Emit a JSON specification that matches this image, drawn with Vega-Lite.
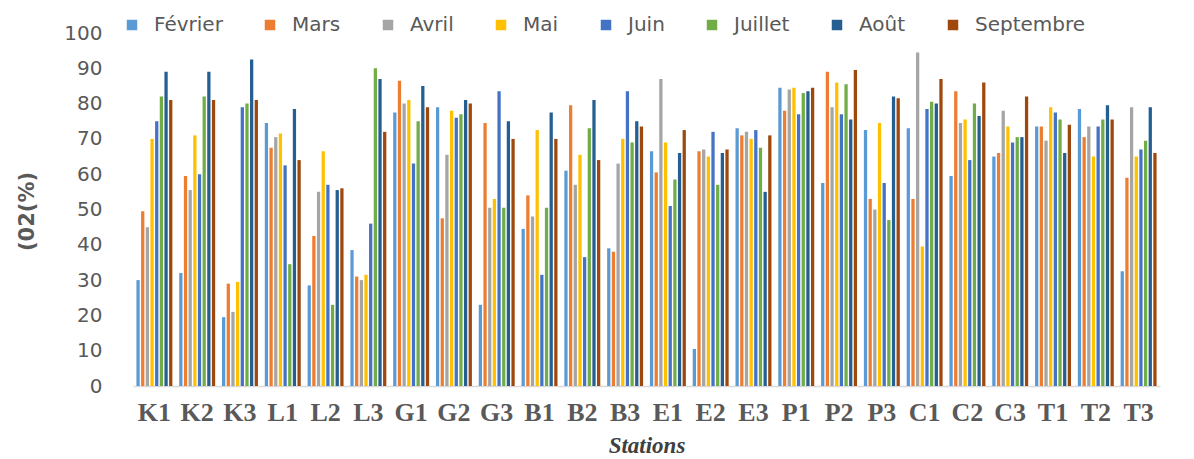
{
  "$schema": "https://vega.github.io/schema/vega-lite/v6.json",
  "autosize": {"type": "none"},
  "width": 1027,
  "height": 353,
  "padding": {"left": 133, "top": 33, "right": 34, "bottom": 73},
  "background": "white",
  "config": {"view": {"stroke": null}},
  "data": {
    "values": [
      {"station": "K1", "Février": 30, "Mars": 49.5, "Avril": 45, "Mai": 70, "Juin": 75, "Juillet": 82, "Août": 89, "Septembre": 81},
      {"station": "K2", "Février": 32, "Mars": 59.5, "Avril": 55.5, "Mai": 71, "Juin": 60, "Juillet": 82, "Août": 89, "Septembre": 81},
      {"station": "K3", "Février": 19.5, "Mars": 29, "Avril": 21, "Mai": 29.5, "Juin": 79, "Juillet": 80, "Août": 92.5, "Septembre": 81},
      {"station": "L1", "Février": 74.5, "Mars": 67.5, "Avril": 70.5, "Mai": 71.5, "Juin": 62.5, "Juillet": 34.5, "Août": 78.5, "Septembre": 64},
      {"station": "L2", "Février": 28.5, "Mars": 42.5, "Avril": 55, "Mai": 66.5, "Juin": 57, "Juillet": 23, "Août": 55.5, "Septembre": 56},
      {"station": "L3", "Février": 38.5, "Mars": 31, "Avril": 30, "Mai": 31.5, "Juin": 46, "Juillet": 90, "Août": 87, "Septembre": 72},
      {"station": "G1", "Février": 77.5, "Mars": 86.5, "Avril": 80, "Mai": 81, "Juin": 63, "Juillet": 75, "Août": 85, "Septembre": 79},
      {"station": "G2", "Février": 79, "Mars": 47.5, "Avril": 65.5, "Mai": 78, "Juin": 76, "Juillet": 77, "Août": 81, "Septembre": 80},
      {"station": "G3", "Février": 23, "Mars": 74.5, "Avril": 50.5, "Mai": 53, "Juin": 83.5, "Juillet": 50.5, "Août": 75, "Septembre": 70},
      {"station": "B1", "Février": 44.5, "Mars": 54, "Avril": 48, "Mai": 72.5, "Juin": 31.5, "Juillet": 50.5, "Août": 77.5, "Septembre": 70},
      {"station": "B2", "Février": 61, "Mars": 79.5, "Avril": 57, "Mai": 65.5, "Juin": 36.5, "Juillet": 73, "Août": 81, "Septembre": 64},
      {"station": "B3", "Février": 39, "Mars": 38, "Avril": 63, "Mai": 70, "Juin": 83.5, "Juillet": 69, "Août": 75, "Septembre": 73.5},
      {"station": "E1", "Février": 66.5, "Mars": 60.5, "Avril": 87, "Mai": 69, "Juin": 51, "Juillet": 58.5, "Août": 66, "Septembre": 72.5},
      {"station": "E2", "Février": 10.5, "Mars": 66.5, "Avril": 67, "Mai": 65, "Juin": 72, "Juillet": 57, "Août": 66, "Septembre": 67},
      {"station": "E3", "Février": 73, "Mars": 71, "Avril": 72, "Mai": 70, "Juin": 72.5, "Juillet": 67.5, "Août": 55, "Septembre": 71},
      {"station": "P1", "Février": 84.5, "Mars": 78, "Avril": 84, "Mai": 84.5, "Juin": 77, "Juillet": 83, "Août": 83.5, "Septembre": 84.5},
      {"station": "P2", "Février": 57.5, "Mars": 89, "Avril": 79, "Mai": 86, "Juin": 77, "Juillet": 85.5, "Août": 75.5, "Septembre": 89.5},
      {"station": "P3", "Février": 72.5, "Mars": 53, "Avril": 50, "Mai": 74.5, "Juin": 57.5, "Juillet": 47, "Août": 82, "Septembre": 81.5},
      {"station": "C1", "Février": 73, "Mars": 53, "Avril": 94.5, "Mai": 39.5, "Juin": 78.5, "Juillet": 80.5, "Août": 80, "Septembre": 87},
      {"station": "C2", "Février": 59.5, "Mars": 83.5, "Avril": 74.5, "Mai": 75.5, "Juin": 64, "Juillet": 80, "Août": 76.5, "Septembre": 86},
      {"station": "C3", "Février": 65, "Mars": 66, "Avril": 78, "Mai": 73.5, "Juin": 69, "Juillet": 70.5, "Août": 70.5, "Septembre": 82},
      {"station": "T1", "Février": 73.5, "Mars": 73.5, "Avril": 69.5, "Mai": 79, "Juin": 77.5, "Juillet": 75.5, "Août": 66, "Septembre": 74},
      {"station": "T2", "Février": 78.5, "Mars": 70.5, "Avril": 73.5, "Mai": 65, "Juin": 73.5, "Juillet": 75.5, "Août": 79.5, "Septembre": 75.5},
      {"station": "T3", "Février": 32.5, "Mars": 59, "Avril": 79, "Mai": 65, "Juin": 67, "Juillet": 69.5, "Août": 79, "Septembre": 66}
    ]
  },
  "transform": [
    {"fold": ["Février", "Mars", "Avril", "Mai", "Juin", "Juillet", "Août", "Septembre"], "as": ["mois", "o2"]}
  ],
  "mark": {"type": "bar"},
  "encoding": {
    "x": {
      "field": "station",
      "type": "nominal",
      "sort": null,
      "scale": {"paddingInner": 0.16, "paddingOuter": 0.08},
      "axis": {
        "title": "Stations",
        "titleFont": "Liberation Serif",
        "titleFontStyle": "italic",
        "titleFontWeight": "bold",
        "titleFontSize": 23,
        "titleColor": "#404040",
        "titleBaseline": "alphabetic",
        "titleY": 66,
        "labelAngle": 0,
        "labelFont": "Liberation Serif",
        "labelFontWeight": "bold",
        "labelFontSize": 26,
        "labelColor": "#595959",
        "labelPadding": 13,
        "ticks": false,
        "domainColor": "#D9D9D9",
        "domainWidth": 1.5
      }
    },
    "xOffset": {
      "field": "mois",
      "type": "nominal",
      "sort": ["Février", "Mars", "Avril", "Mai", "Juin", "Juillet", "Août", "Septembre"],
      "scale": {"paddingInner": 0.3}
    },
    "y": {
      "field": "o2",
      "type": "quantitative",
      "scale": {"domain": [0, 100]},
      "axis": {
        "title": "(02(%)",
        "titleFont": "DejaVu Sans",
        "titleFontSize": 21,
        "titleFontWeight": "bold",
        "titleColor": "#595959",
        "titleAngle": -90,
        "titleX": -106,
        "titleY": 178,
        "titleAlign": "center",
        "titleBaseline": "middle",
        "values": [0, 10, 20, 30, 40, 50, 60, 70, 80, 90, 100],
        "labelFont": "DejaVu Sans",
        "labelFontSize": 20,
        "labelColor": "#595959",
        "labelPadding": 31,
        "ticks": false,
        "domain": false,
        "grid": false
      }
    },
    "color": {
      "field": "mois",
      "type": "nominal",
      "sort": ["Février", "Mars", "Avril", "Mai", "Juin", "Juillet", "Août", "Septembre"],
      "scale": {
        "domain": ["Février", "Mars", "Avril", "Mai", "Juin", "Juillet", "Août", "Septembre"],
        "range": ["#5B9BD5", "#ED7D31", "#A5A5A5", "#FFC000", "#4472C4", "#70AD47", "#255E91", "#9E480E"]
      },
      "legend": {
        "title": null,
        "orient": "none",
        "direction": "horizontal",
        "columns": 8,
        "legendX": -11,
        "legendY": -18,
        "symbolType": "square",
        "symbolSize": 110,
        "symbolStrokeWidth": 0,
        "labelFont": "DejaVu Sans",
        "labelFontSize": 20,
        "labelColor": "#595959",
        "labelOffset": 12,
        "columnPadding": 37
      }
    }
  }
}
